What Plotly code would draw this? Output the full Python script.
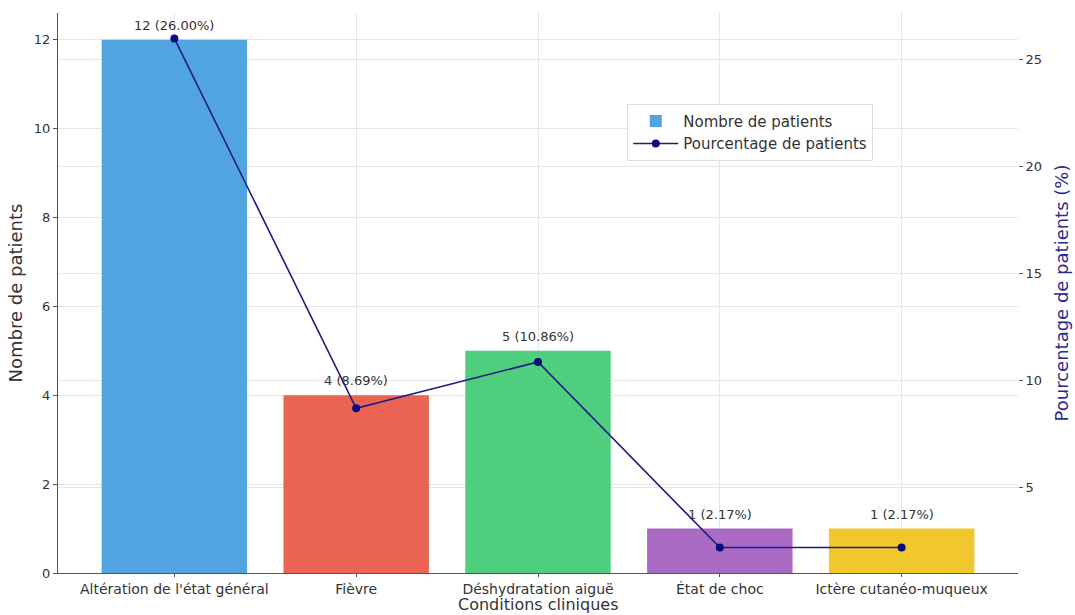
import plotly.graph_objects as go

# Clinical conditions and patient counts
conditions = [
    "Altération de l'état général",
    "Fièvre",
    "Déshydratation aiguë",
    "État de choc",
    "Ictère cutanéo-muqueux",
]
patients = [12, 4, 5, 1, 1]
percentages = [26.00, 8.69, 10.86, 2.17, 2.17]
bar_colors = ["#52a4e0", "#ea6453", "#4fcf7e", "#a96bc4", "#f2c72e"]

FONT = "DejaVu Sans"
GRID = "#e6e6e6"
TEXT = "#333333"

fig = go.Figure()

fig.add_trace(go.Bar(
    x=conditions,
    y=patients,
    name="Nombre de patients",
    marker=dict(color=bar_colors, line=dict(width=0)),
    width=0.8,
    yaxis="y",
))

fig.add_trace(go.Scatter(
    x=conditions,
    y=percentages,
    name="Pourcentage de patients",
    mode="lines+markers",
    line=dict(color="#1f1a86", width=1.6),
    marker=dict(color="#0a0a80", size=8),
    yaxis="y2",
))

# Value labels above each bar: count and share
for c, n, p in zip(conditions, patients, percentages):
    fig.add_annotation(
        x=c, y=n, xref="x", yref="y",
        text=f"{n} ({p:.2f}%)",
        showarrow=False, yanchor="bottom", yshift=5,
        font=dict(family=FONT, size=13, color=TEXT),
    )

# X-axis title placed just under the category labels
fig.add_annotation(
    x=0.5, y=-0.057, xref="paper", yref="paper",
    text="Conditions cliniques", showarrow=False,
    xanchor="center", yanchor="middle",
    font=dict(family=FONT, size=16, color=TEXT),
)

fig.update_layout(
    width=1075, height=615,
    margin=dict(l=58, r=57, t=13, b=42),
    paper_bgcolor="white",
    plot_bgcolor="white",
    font=dict(family=FONT, size=12, color=TEXT),
    bargap=0.2,
    showlegend=True,
    legend=dict(
        x=0.593, y=0.838, xanchor="left", yanchor="top",
        bgcolor="rgba(255,255,255,0.9)",
        bordercolor="#dddddd", borderwidth=1,
        font=dict(family=FONT, size=15, color=TEXT),
        itemwidth=45,
    ),
    xaxis=dict(
        range=[-0.64, 4.64],
        automargin=False,
        showgrid=True, gridcolor=GRID, gridwidth=1,
        showline=True, linecolor="#555555", linewidth=1,
        ticks="outside", ticklen=3, tickcolor="#555555",
        tickfont=dict(family=FONT, size=14, color=TEXT),
        zeroline=False,
    ),
    yaxis=dict(
        range=[0, 12.6],
        automargin=False,
        tickvals=[0, 2, 4, 6, 8, 10, 12],
        showgrid=True, gridcolor=GRID, gridwidth=1,
        showline=True, linecolor="#555555", linewidth=1,
        ticks="outside", ticklen=4, tickcolor="#555555",
        tickfont=dict(family=FONT, size=13, color=TEXT),
        title=dict(text="Nombre de patients", standoff=6,
                   font=dict(family=FONT, size=18, color=TEXT)),
        zeroline=False,
    ),
    yaxis2=dict(
        overlaying="y", side="right",
        automargin=False,
        range=[0.98, 27.19],
        tickvals=[5, 10, 15, 20, 25],
        showgrid=True, gridcolor=GRID, gridwidth=1,
        showline=False,
        ticks="outside", ticklen=4, tickcolor="#555555",
        tickfont=dict(family=FONT, size=13, color=TEXT),
        title=dict(text="Pourcentage de patients (%)", standoff=14,
                   font=dict(family=FONT, size=18, color="#2b2b8c")),
        zeroline=False,
    ),
)

fig.write_html("out.html")
